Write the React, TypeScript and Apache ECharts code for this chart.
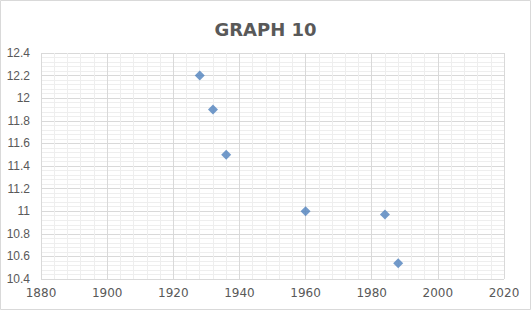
import React, { useEffect, useRef } from "react";
import * as echarts from "echarts";

const years = [1928, 1932, 1936, 1960, 1984, 1988];
const times = [12.2, 11.9, 11.5, 11.0, 10.97, 10.54];
const titleText = "GRAPH 10";

export default function App() {
  const ref = useRef<HTMLDivElement>(null);
  useEffect(() => {
    if (!ref.current) return;
    const chart = echarts.init(ref.current, null, { renderer: "svg" });
    const data = years.map((y, i) => [y, times[i]]);
    chart.setOption({
      animation: false,
      backgroundColor: "#ffffff",
      title: {
        text: titleText,
        left: "center",
        top: 15,
        textStyle: {
          fontFamily: "DejaVu Sans, sans-serif",
          fontSize: 18,
          fontWeight: "bold",
          color: "#595959",
        },
      },
      graphic: [
        {
          type: "rect",
          shape: { x: 0.5, y: 0.5, width: 530, height: 309 },
          style: { fill: "none", stroke: "#d9d9d9", lineWidth: 1 },
          silent: true,
        },
      ],
      grid: { left: 41, right: 27, top: 53, bottom: 31 },
      xAxis: {
        type: "value",
        min: 1880,
        max: 2020,
        interval: 20,
        axisLine: { show: false },
        axisTick: { show: false },
        axisLabel: {
          margin: 8,
          color: "#595959",
          fontSize: 12,
          fontFamily: "DejaVu Sans, sans-serif",
          formatter: (v: number) => String(v),
        },
        splitLine: { show: true, lineStyle: { color: "#d9d9d9", width: 1 } },
        minorTick: { show: false, splitNumber: 5 },
        minorSplitLine: { show: true, lineStyle: { color: "#eeeeee", width: 1 } },
      },
      yAxis: {
        type: "value",
        min: 10.4,
        max: 12.4,
        interval: 0.2,
        axisLine: { show: false },
        axisTick: { show: false },
        axisLabel: {
          margin: 11,
          color: "#595959",
          fontSize: 12,
          fontFamily: "Liberation Sans, Arial, sans-serif",
          formatter: (v: number) => String(Math.round(v * 10) / 10),
        },
        splitLine: { show: true, lineStyle: { color: "#d9d9d9", width: 1 } },
        minorTick: { show: false, splitNumber: 5 },
        minorSplitLine: { show: true, lineStyle: { color: "#eeeeee", width: 1 } },
      },
      series: [
        {
          type: "scatter",
          data,
          symbol: "diamond",
          symbolSize: 10,
          itemStyle: { color: "#4f81bd" },
        },
      ],
    });
    return () => chart.dispose();
  }, []);
  return (
    <div
      ref={ref}
      style={{ position: "fixed", left: 0, top: 0, width: 531, height: 310 }}
    />
  );
}
